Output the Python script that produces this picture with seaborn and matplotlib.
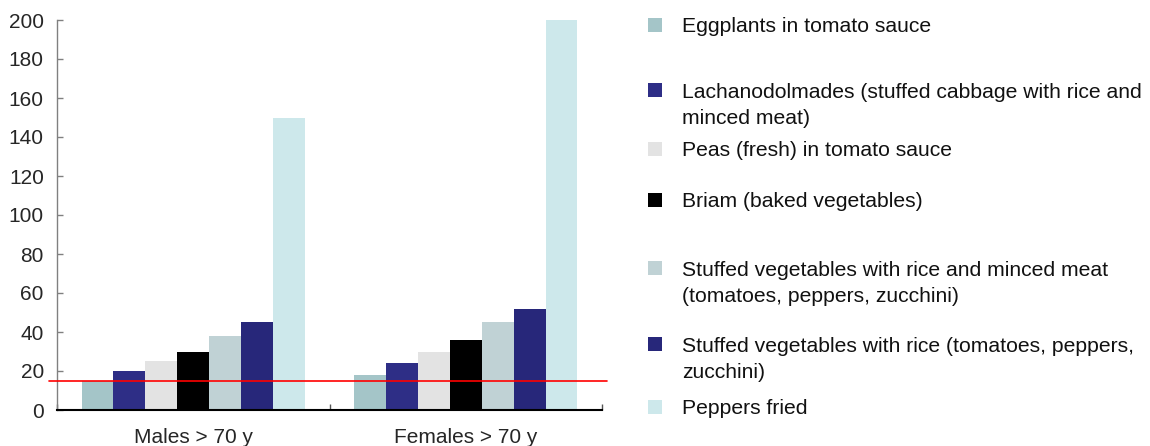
import matplotlib
matplotlib.use("Agg")
import matplotlib.pyplot as plt
from matplotlib.patches import Rectangle
import seaborn as sns
import pandas as pd

groups = ["Males > 70 y", "Females > 70 y"]
dishes = [
    "Eggplants in tomato sauce",
    "Lachanodolmades (stuffed cabbage with rice and\nminced meat)",
    "Peas (fresh) in tomato sauce",
    "Briam (baked vegetables)",
    "Stuffed vegetables with rice and minced meat\n(tomatoes, peppers, zucchini)",
    "Stuffed vegetables with rice (tomatoes, peppers,\nzucchini)",
    "Peppers fried",
]
males = [15, 20, 25, 30, 38, 45, 150]
females = [18, 24, 30, 36, 45, 52, 200]
reference_line = 15
colors = ["#a4c5c8", "#2e2e86", "#e3e3e3", "#000000", "#c0d2d5", "#27277a", "#cde8eb"]
yticks = [0, 20, 40, 60, 80, 100, 120, 140, 160, 180, 200]

rows = []
for d, m, f in zip(dishes, males, females):
    rows.append({"group": groups[0], "dish": d, "value": m})
    rows.append({"group": groups[1], "dish": d, "value": f})
df = pd.DataFrame(rows)

sns.set_style("white")
plt.rcParams["font.family"] = ["Liberation Sans", "DejaVu Sans"]

fig = plt.figure(figsize=(11.5, 4.46), dpi=100)
ax = fig.add_axes([57 / 1150, 1 - 410 / 446, 545 / 1150, 390 / 446])

sns.barplot(data=df, x="group", y="value", hue="dish", order=groups,
            hue_order=dishes, palette=colors, saturation=1, width=0.82,
            linewidth=0, ax=ax, legend=False, errorbar=None)

ax.set_ylim(0, 200)
ax.set_xlim(-0.5, 1.5)
ax.set_yticks(yticks)
ax.set_xlabel("")
ax.set_ylabel("")
ax.tick_params(axis="y", direction="in", length=4, width=1, color="#808080",
               labelsize=15, pad=9.5, left=True)
ax.tick_params(axis="x", which="major", length=0, labelsize=15, pad=13)
ax.set_xticks([-0.5, 0.5, 1.5], minor=True)
ax.tick_params(axis="x", which="minor", direction="in", length=4, width=1,
               color="#555555", bottom=True)
for s in ["top", "right"]:
    ax.spines[s].set_visible(False)
ax.spines["left"].set_color("#808080")
ax.spines["left"].set_linewidth(1)
ax.spines["bottom"].set_color("black")
ax.spines["bottom"].set_linewidth(1.5)

ax.axhline(reference_line, xmin=-0.015, xmax=1.01, color="red", lw=1.2,
           clip_on=False, zorder=5)

# legend (Excel-like, irregular spacing)
legend_first_line_y = [25, 90, 149, 200, 268, 344, 407]
line_step = 26
for label, c, yc in zip(dishes, colors, legend_first_line_y):
    fig.patches.append(Rectangle((648 / 1150, 1 - (yc + 7) / 446), 14 / 1150, 14 / 446,
                                 transform=fig.transFigure, facecolor=c,
                                 edgecolor="none"))
    nlines = label.count("\n") + 1
    base = yc + 7.5 + (nlines - 1) * line_step
    fig.text(682 / 1150, 1 - base / 446, label, fontsize=15.2, va="baseline",
             ha="left", linespacing=1.41, color="#111111")

fig.savefig("out.png", dpi=100)
